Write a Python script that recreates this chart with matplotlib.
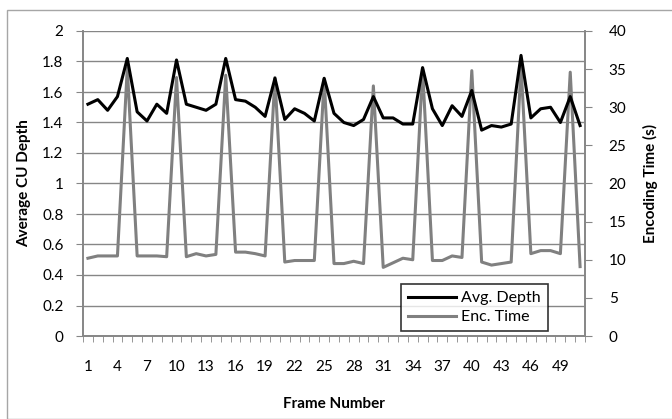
import numpy as np
import matplotlib
matplotlib.use("Agg")
import matplotlib.pyplot as plt
from matplotlib.ticker import MultipleLocator, FixedLocator, FuncFormatter
from matplotlib.patches import Rectangle

plt.rcParams['font.family'] = ['Lato', 'DejaVu Sans']

# frame index and the two series
frames = np.arange(1, 52)
avg_depth = [1.52, 1.55, 1.48, 1.57, 1.82, 1.47, 1.41, 1.52, 1.46, 1.81,
             1.52, 1.50, 1.48, 1.52, 1.82, 1.55, 1.54, 1.50, 1.44, 1.69,
             1.42, 1.49, 1.46, 1.41, 1.69, 1.46, 1.40, 1.38, 1.42, 1.57,
             1.43, 1.43, 1.39, 1.39, 1.76, 1.49, 1.38, 1.51, 1.44, 1.61,
             1.35, 1.38, 1.37, 1.39, 1.84, 1.43, 1.49, 1.50, 1.40, 1.57,
             1.38]
enc_time = [10.2, 10.5, 10.5, 10.5, 35.2, 10.5, 10.5, 10.5, 10.4, 33.9,
            10.4, 10.8, 10.5, 10.7, 34.2, 11.0, 11.0, 10.8, 10.5, 33.9,
            9.7, 9.9, 9.9, 9.9, 33.7, 9.5, 9.5, 9.8, 9.5, 32.8,
            9.0, 9.6, 10.2, 10.0, 35.0, 9.9, 9.9, 10.5, 10.3, 34.8,
            9.7, 9.3, 9.5, 9.7, 35.5, 10.8, 11.2, 11.2, 10.8, 34.6,
            9.1]
x_labels = frames[::3]

W, H = 672, 419
fig = plt.figure(figsize=(W / 100, H / 100), dpi=100)
fig.patches.append(Rectangle((7 / W, 0), 1, 1 - 10 / H, transform=fig.transFigure,
                             fill=False, edgecolor='#a6a6a6', linewidth=1))

ax = fig.add_axes([83 / W, (H - 336) / H, (585 - 83) / W, (336 - 31) / H])
ax2 = ax.twinx()

grey = '#868686'
ax.plot(frames, avg_depth, color='black', linewidth=2.2, label='Avg. Depth', zorder=3)
ax2.plot(frames, enc_time, color='#808080', linewidth=2.2, label='Enc. Time', zorder=2)
ax.set_zorder(ax2.get_zorder() + 1)
ax.patch.set_visible(False)

ax.set_xlim(0.5, 51.5)
ax.set_ylim(0, 2)
ax2.set_ylim(0, 40)
ax.yaxis.set_major_locator(MultipleLocator(0.2))
ax2.yaxis.set_major_locator(MultipleLocator(5))
ax.yaxis.set_major_formatter(FuncFormatter(lambda v, p: f'{v:.1f}'.rstrip('0').rstrip('.') or '0'))

ax.xaxis.set_major_locator(FixedLocator(x_labels))
ax.xaxis.set_minor_locator(FixedLocator(np.arange(0.5, 52, 1)))
ax.tick_params(axis='x', which='major', length=0, pad=17, labelsize=11)
ax.tick_params(axis='x', which='minor', length=4, color=grey, direction='out')
ax.tick_params(axis='y', length=5, color=grey, pad=9, labelsize=11)
ax2.tick_params(axis='y', length=5, color=grey, pad=12, labelsize=11)

ax.grid(axis='y', color=grey, linewidth=1)
for a in (ax, ax2):
    a.spines['top'].set_visible(False)
    for s in ('left', 'right', 'bottom'):
        a.spines[s].set_color(grey)
        a.spines[s].set_linewidth(1.2)

ax.set_ylabel('Average CU Depth', fontweight='bold', fontsize=11, labelpad=8)
ax2.set_ylabel('Encoding Time (s)', fontweight='bold', fontsize=11, labelpad=12)
ax.set_xlabel('Frame Number', fontweight='bold', fontsize=11, labelpad=17)

h1, l1 = ax.get_legend_handles_labels()
h2, l2 = ax2.get_legend_handles_labels()
leg = ax.legend(h1 + h2, l1 + l2, loc='lower right', bbox_to_anchor=(0.926, 0.015),
                frameon=True, fancybox=False, fontsize=11.5, handlelength=3.0,
                handletextpad=0.3, borderpad=0.45, labelspacing=0.3,
                borderaxespad=0)
leg.get_frame().set_edgecolor('black')
leg.get_frame().set_linewidth(1.2)

fig.savefig('out.png', dpi=100)
